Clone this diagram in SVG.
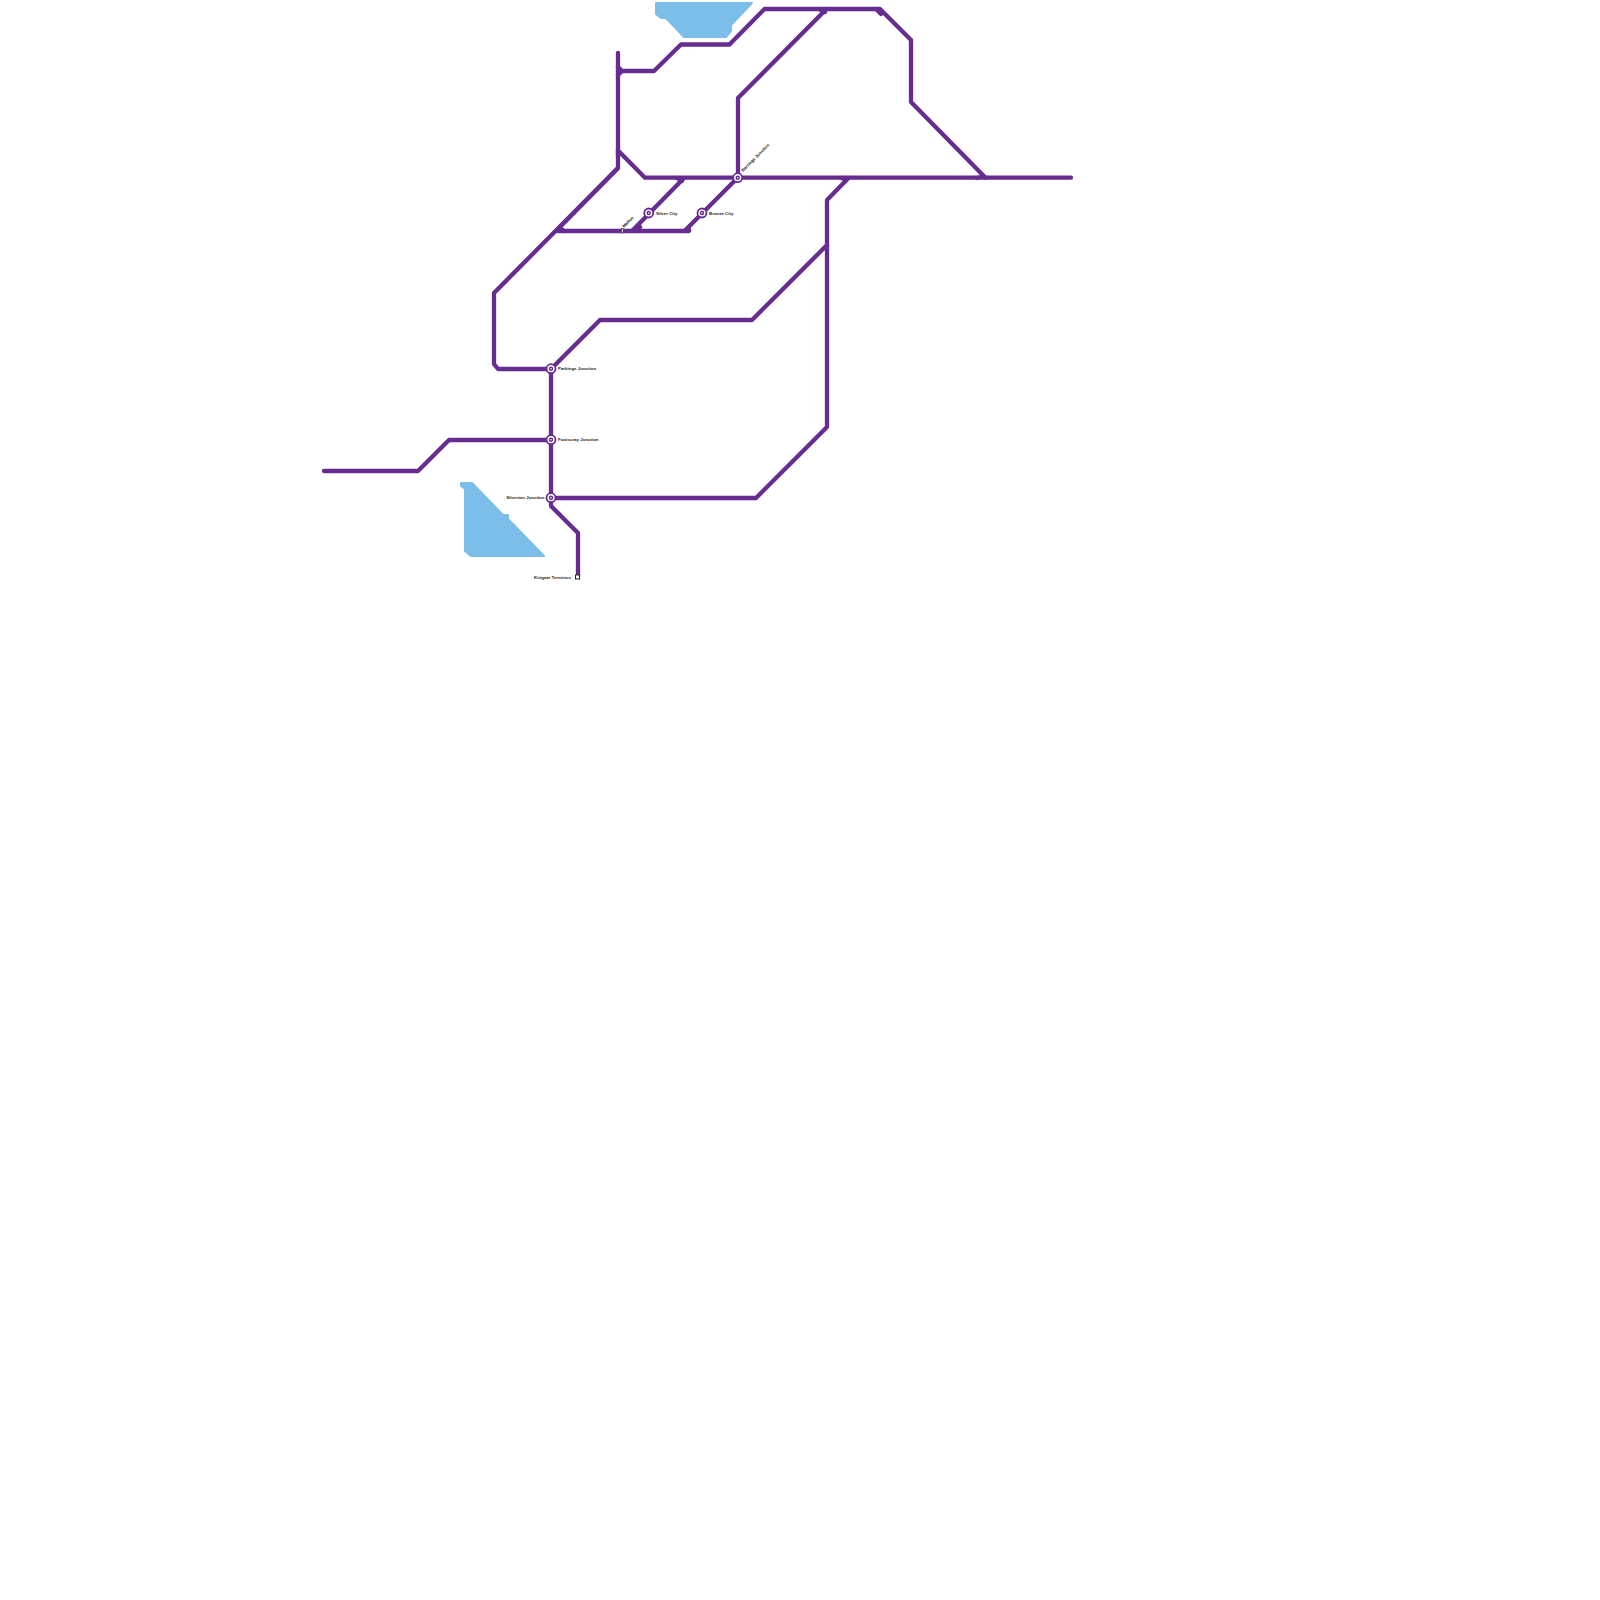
<svg xmlns="http://www.w3.org/2000/svg" width="1600" height="1600" viewBox="0 0 1600 1600">
<style>
.water{fill:#7bbeea;stroke:#7bbeea;stroke-width:2;stroke-linejoin:round}
.line{fill:none;stroke:#662c90;stroke-width:4.300;stroke-linecap:round;stroke-linejoin:round}
.ring{fill:#fff;stroke:#662c90;stroke-width:1.800}
.dot{fill:#fff;stroke:#662c90;stroke-width:1.400}
.term{fill:#fff;stroke:#222;stroke-width:1}
text{font-family:"Liberation Sans",Arial,sans-serif;font-size:4.400px;font-weight:700;fill:#222}
</style>
<rect width="1600" height="1600" fill="#fff"/>
<g id="water">
<polygon class="water" points="656,3 752,3 731,25 731,31 726,37 684,37 666,18 661,18 656,14"/>
<polygon class="water" points="461,483 472,483 503,515 508,515 508,519 544,556 471,556 465,551 465,489 461,486"/>
</g>
<g id="connectors">
<path class="line" d="M618,53V168L494,293V364L498,369H551"/>
<path class="line" d="M618,71H654L681,44.500H729.500L764.500,9H880L911,40V102L985.500,177.700"/>
<path class="line" d="M619.500,152L645,177.700H1071"/>
<path class="line" d="M738,177.700V98L826.500,9"/>
<path class="line" d="M558,231H689V229.500"/>
<path class="line" d="M737.700,177.700L684.500,231"/>
<path class="line" d="M632,231L683,179"/>
<path class="line" d="M848.500,178L827,200V427L756,498H551"/>
<path class="line" d="M827,245L752,320H600L551,369"/>
<path class="line" d="M324,471H418L449,440H551"/>
<path class="line" d="M551,369V506L578,533V577"/>
<path class="line" d="M618,168L556,231"/>
<path class="line" d="M820,9.500L825,12M876,9L881,14M677,178L682,181M842,178L846,180M981,177L977,178M564,231L560,228M622,71L618,67M622,71L618,75M618,156V150M636,231L640,227"/>
</g>
<g id="parkings"><circle class="ring" cx="551" cy="368.700" r="4.500"/><circle class="dot" cx="551" cy="368.700" r="1.500"/><text x="558" y="370">Parkings Junction</text></g>
<g id="footscray"><circle class="ring" cx="551" cy="439.700" r="4.500"/><circle class="dot" cx="551" cy="439.700" r="1.500"/><text x="558" y="441">Footscray Junction</text></g>
<g id="silverton"><circle class="ring" cx="551" cy="497.700" r="4.500"/><circle class="dot" cx="551" cy="497.700" r="1.500"/><text x="544.500" y="499" text-anchor="end">Silverton Junction</text></g>
<g id="kirigate"><rect class="term" x="575.500" y="575" width="4" height="4"/><text x="571" y="579" text-anchor="end">Kirigate Terminus</text></g>
<g id="silver-city"><circle class="ring" cx="648.700" cy="213" r="4.500"/><circle class="dot" cx="648.700" cy="213" r="1.500"/><text x="656" y="214.500">Silver City</text></g>
<g id="bronze-city"><circle class="ring" cx="702" cy="213" r="4.500"/><circle class="dot" cx="702" cy="213" r="1.500"/><text x="709" y="214.500">Bronze City</text></g>
<g id="barrings"><circle class="ring" cx="737.700" cy="177.700" r="4.500"/><circle class="dot" cx="737.700" cy="177.700" r="1.500"/><text transform="translate(743,172) rotate(-45)">Barrings Junction</text></g>
<g id="malton"><rect class="term" x="621.500" y="228.500" width="1.600" height="4.500" style="stroke-width:.6"/><text transform="translate(624,228) rotate(-45)">Malton</text></g>
</svg>
